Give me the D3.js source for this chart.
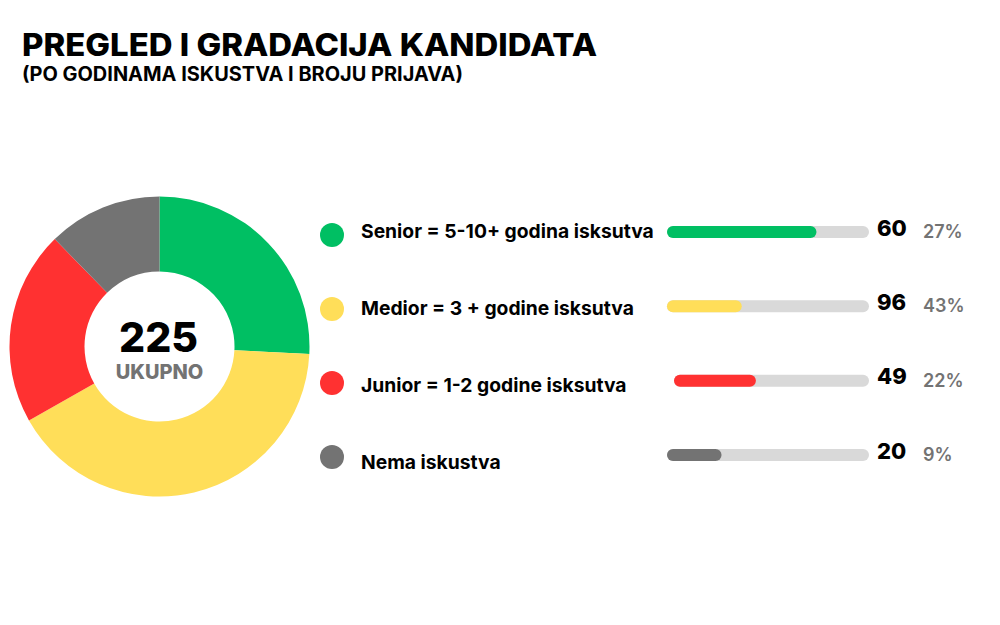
<!DOCTYPE html>
<html>
<head>
<meta charset="utf-8">
<script src="https://cdn.jsdelivr.net/npm/d3@7"></script>
<style>
  html, body { margin: 0; padding: 0; background: #fff; }
  svg { display: block; font-family: Inter, "Open Sans", sans-serif; }
</style>
</head>
<body>
<div id="chart"></div>
<script>
// data
const labels = [
  "Senior = 5-10+ godina isksutva",
  "Medior = 3 + godine isksutva",
  "Junior = 1-2 godine isksutva",
  "Nema iskustva"
];
const counts = [60, 96, 49, 20];
const percentLabels = ["27%", "43%", "22%", "9%"];
// slice sizes as drawn in the donut (percent of circle)
const donutShare = [25.8, 41.0, 20.9, 12.3];
// fill of each progress bar as drawn (fraction of track)
const barFill = [0.74, 0.37, 0.42, 0.27];
const colors = ["#00bf63", "#ffde59", "#ff3131", "#737373"];
const total = d3.sum(counts);

const width = 1000, height = 625;

const svg = d3.select("#chart").append("svg")
  .attr("width", width)
  .attr("height", height)
  .attr("viewBox", [0, 0, width, height]);

// title
svg.append("text")
  .attr("x", 22).attr("y", 55.5)
  .attr("font-size", 31).attr("font-weight", 800)
  .attr("fill", "#000")
  .attr("textLength", 575).attr("lengthAdjust", "spacingAndGlyphs")
  .text("PREGLED I GRADACIJA KANDIDATA");

svg.append("text")
  .attr("x", 22).attr("y", 80.5)
  .attr("font-size", 19.5).attr("font-weight", 700)
  .attr("fill", "#000")
  .attr("textLength", 441).attr("lengthAdjust", "spacingAndGlyphs")
  .text("(PO GODINAMA ISKUSTVA I BROJU PRIJAVA)");

// donut
const cx = 159.5, cy = 346.5;
const pie = d3.pie().sort(null).value(d => d.share);
const arc = d3.arc().innerRadius(75).outerRadius(150);

const slices = labels.map((l, i) => ({ label: l, share: donutShare[i], color: colors[i] }));

const donut = svg.append("g")
  .attr("transform", `translate(${cx},${cy})`);

donut.selectAll("path")
  .data(pie(slices))
  .join("path")
    .attr("d", arc)
    .attr("fill", d => d.data.color);

donut.append("text")
  .attr("x", -1).attr("y", 5)
  .attr("text-anchor", "middle")
  .attr("font-size", 41).attr("font-weight", 800)
  .attr("fill", "#000")
  .text(total);

donut.append("text")
  .attr("x", 0).attr("y", 32.5)
  .attr("text-anchor", "middle")
  .attr("font-size", 20).attr("font-weight", 800)
  .attr("fill", "#737373")
  .text("UKUPNO");

// legend rows
const dotY = d3.scalePoint().domain(labels).range([235, 457]);
const textY = d3.scalePoint().domain(labels).range([237.5, 469]);
const barY = d3.scalePoint().domain(labels).range([232, 455]);

const trackStart = 667, trackEnd = 869;
const rows = labels.map((l, i) => ({
  label: l, count: counts[i], pct: percentLabels[i], fill: barFill[i], color: colors[i],
  // the junior bar sits a little to the right in the picture
  x0: i === 2 ? 674 : trackStart
}));

const fillScale = d3.scaleLinear().domain([0, 1]);

const row = svg.append("g").selectAll("g")
  .data(rows)
  .join("g");

row.append("circle")
  .attr("cx", 332)
  .attr("cy", d => dotY(d.label))
  .attr("r", 12)
  .attr("fill", d => d.color);

row.append("text")
  .attr("x", 361)
  .attr("y", d => textY(d.label))
  .attr("font-size", 19.3).attr("font-weight", 700)
  .attr("fill", "#000")
  .text(d => d.label);

row.append("rect")
  .attr("x", d => d.x0)
  .attr("y", d => barY(d.label) - 6)
  .attr("width", d => trackEnd - d.x0)
  .attr("height", 12)
  .attr("rx", 6)
  .attr("fill", "#d9d9d9");

row.append("rect")
  .attr("x", d => d.x0)
  .attr("y", d => barY(d.label) - 6)
  .attr("width", d => fillScale.range([0, trackEnd - d.x0])(d.fill))
  .attr("height", 12)
  .attr("rx", 6)
  .attr("fill", d => d.color);

row.append("text")
  .attr("x", 877)
  .attr("y", d => barY(d.label) + 3.5)
  .attr("font-size", 22).attr("font-weight", 800)
  .attr("fill", "#000")
  .text(d => d.count);

row.append("text")
  .attr("x", 923)
  .attr("y", d => barY(d.label) + 6)
  .attr("font-size", 18).attr("font-weight", 600)
  .attr("fill", "#737373")
  .text(d => d.pct);
</script>
</body>
</html>
